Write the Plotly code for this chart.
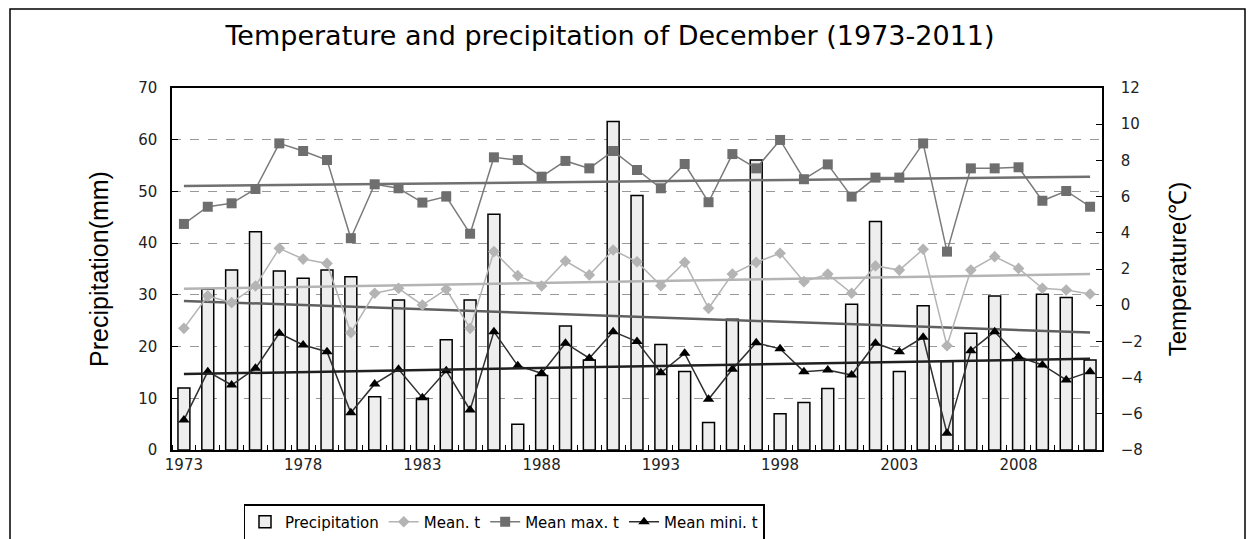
import numpy as np
import plotly.graph_objects as go

years = list(range(1973, 2012))
precipitation = [12.0, 31.1, 34.8, 42.2, 34.6, 33.2, 34.8, 33.5, 10.3, 29.0,
                 10.0, 21.3, 29.0, 45.6, 5.0, 14.4, 24.0, 17.4, 63.5, 49.2,
                 20.4, 15.2, 5.3, 25.3, 56.1, 7.0, 9.2, 11.9, 28.2, 44.2,
                 15.2, 27.9, 17.1, 22.6, 29.8, 17.7, 30.1, 29.5, 17.4]
mean_t = [-1.28, 0.51, 0.14, 1.06, 3.14, 2.55, 2.31, -1.52, 0.66, 0.93,
          0.01, 0.88, -1.28, 2.96, 1.63, 1.06, 2.44, 1.67, 3.05, 2.40,
          1.08, 2.37, -0.17, 1.72, 2.37, 2.87, 1.30, 1.72, 0.66, 2.17,
          1.94, 3.09, -2.24, 1.94, 2.68, 2.03, 0.93, 0.84, 0.62]
mean_max_t = [4.49, 5.44, 5.63, 6.42, 8.94, 8.52, 8.02, 3.70, 6.68, 6.46,
              5.67, 6.00, 3.95, 8.17, 8.02, 7.10, 7.97, 7.56, 8.52, 7.47,
              6.46, 7.80, 5.69, 8.35, 7.56, 9.13, 6.96, 7.78, 6.00, 7.05,
              7.05, 8.94, 2.96, 7.56, 7.56, 7.62, 5.77, 6.31, 5.44]
mean_min_t = [-6.34, -3.67, -4.41, -3.49, -1.55, -2.20, -2.57, -5.94, -4.35, -3.54,
              -5.11, -3.62, -5.79, -1.46, -3.34, -3.76, -2.10, -2.93, -1.46, -2.01,
              -3.73, -2.66, -5.20, -3.54, -2.07, -2.41, -3.67, -3.58, -3.86, -2.10,
              -2.57, -1.77, -7.08, -2.51, -1.46, -2.85, -3.30, -4.13, -3.67]
x_tick_labels = [1973, 1978, 1983, 1988, 1993, 1998, 2003, 2008]

title_text = "Temperature and precipitation of December (1973-2011)"
FONT = "DejaVu Sans, Liberation Sans, sans-serif"
AXFONT = "Liberation Sans, Arial, sans-serif"

# The page body has an 8px default margin, so the figure is drawn 8px smaller
W, H = 1246, 531
L, R, T, B = 164, 152, 80, 89
PW, PH = W - L - R, H - T - B

x = np.array(years, dtype=float)


def trend(values):
    k, b = np.polyfit(x, np.array(values, dtype=float), 1)
    return k * x + b


fig = go.Figure()

fig.add_trace(go.Bar(
    x=years, y=precipitation, name="Precipitation", width=0.5,
    marker=dict(color="#eeeeee", line=dict(color="black", width=1.5)),
    yaxis="y"))

fig.add_trace(go.Scatter(
    x=years, y=mean_t, name="Mean. t", mode="lines+markers", yaxis="y2",
    line=dict(color="#b4b4b4", width=1.5),
    marker=dict(symbol="diamond", size=9, color="#b4b4b4")))

fig.add_trace(go.Scatter(
    x=years, y=mean_max_t, name="Mean max. t", mode="lines+markers", yaxis="y2",
    line=dict(color="#7a7a7a", width=1.5),
    marker=dict(symbol="square", size=10, color="#6e6e6e")))

fig.add_trace(go.Scatter(
    x=years, y=mean_min_t, name="Mean mini. t", mode="lines+markers", yaxis="y2",
    line=dict(color="#303030", width=1.5),
    marker=dict(symbol="triangle-up", size=10, color="black")))

# trend lines
fig.add_trace(go.Scatter(x=years, y=trend(mean_max_t), mode="lines", yaxis="y2",
                         line=dict(color="#707070", width=2.5), showlegend=False, hoverinfo="skip"))
fig.add_trace(go.Scatter(x=years, y=trend(mean_t), mode="lines", yaxis="y2",
                         line=dict(color="#b4b4b4", width=2.5), showlegend=False, hoverinfo="skip"))
fig.add_trace(go.Scatter(x=years, y=trend(precipitation), mode="lines", yaxis="y",
                         line=dict(color="#606060", width=2.5), showlegend=False, hoverinfo="skip"))
fig.add_trace(go.Scatter(x=years, y=trend(mean_min_t), mode="lines", yaxis="y2",
                         line=dict(color="#202020", width=2.5), showlegend=False, hoverinfo="skip"))

fig.update_layout(
    width=W, height=H,
    margin=dict(l=L, r=R, t=T, b=B, autoexpand=False),
    paper_bgcolor="white", plot_bgcolor="white",
    font=dict(family=FONT, color="#222222"),
    title=dict(text=title_text, x=602 / W, xanchor="center", y=1 - 28 / H, yanchor="middle",
               font=dict(family=FONT, size=27, color="black")),
    showlegend=True,
    legend=dict(orientation="h", x=496 / W, xanchor="center", xref="container",
                y=1 - 514 / H, yanchor="middle", yref="container",
                bordercolor="black", borderwidth=1.5, bgcolor="white",
                font=dict(family=FONT, size=15, color="black"),
                itemwidth=30, tracegroupgap=0),
    bargap=0.5,
    xaxis=dict(range=[1972.5, 2011.5], tickmode="array", tickvals=x_tick_labels,
               ticktext=[str(v) for v in x_tick_labels], ticks="",
               showline=True, linecolor="black", linewidth=1.5, mirror=True,
               showgrid=False, zeroline=False, ticklabelstandoff=0,
               tickfont=dict(size=15, color="#222222"),
               minor=dict(tick0=1972.5, dtick=1, ticks="inside", ticklen=5,
                          tickcolor="black", tickwidth=1, showgrid=False)),
    yaxis=dict(range=[0, 70], dtick=10, ticks="inside", ticklen=6, tickcolor="black",
               showline=True, linecolor="black", linewidth=1.5,
               showgrid=True, gridcolor="#999999", griddash="dash", gridwidth=1,
               zeroline=False, tickfont=dict(size=15, color="#222222"),
               ticklabelstandoff=10,
               title=dict(text="Precipitation(mm)", standoff=22,
                          font=dict(family=AXFONT, size=25, color="black"))),
    yaxis2=dict(range=[-8, 12], dtick=2, overlaying="y", side="right",
                ticks="inside", ticklen=6, tickcolor="black",
                showline=True, linecolor="black", linewidth=1.5,
                showgrid=False, zeroline=False, tickfont=dict(size=15, color="#222222"),
                ticklabelstandoff=14,
                title=dict(text="Temperature(℃)", standoff=27,
                           font=dict(family=AXFONT, size=24, color="black"))),
    shapes=[dict(type="rect", xref="paper", yref="paper",
                 x0=(2 - L) / PW, x1=(1237 - L) / PW,
                 y0=-0.5, y1=(PH + T - 1) / PH,
                 line=dict(color="black", width=1.5), fillcolor="rgba(0,0,0,0)")],
)

fig.write_html("out.html")
